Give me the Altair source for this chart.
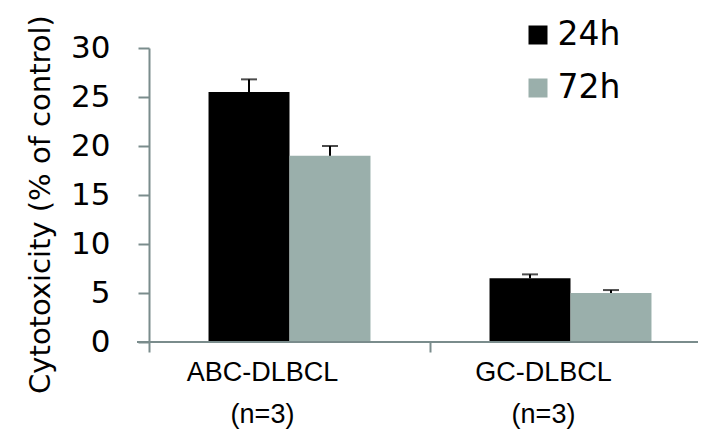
import altair as alt
import pandas as pd

groups = ["ABC-DLBCL (n=3)", "GC-DLBCL (n=3)"]
times = ["24h", "72h"]
mean_24h = [25.5, 6.5]
err_24h = [1.3, 0.4]
mean_72h = [19.0, 5.0]
err_72h = [1.0, 0.3]
colors = ["#000000", "#9aafab"]
y_ticks = [0, 5, 10, 15, 20, 25, 30]

rows = []
for g, m, e in zip(groups, mean_24h, err_24h):
    rows.append({"group": g, "time": "24h", "value": m, "upper": m + e})
for g, m, e in zip(groups, mean_72h, err_72h):
    rows.append({"group": g, "time": "72h", "value": m, "upper": m + e})
df = pd.DataFrame(rows)

AX = "#7a8c8c"

x_enc = alt.X(
    "group:N",
    sort=groups,
    scale=alt.Scale(range=[0, 562], paddingInner=0, paddingOuter=0),
    axis=alt.Axis(
        title=None, domain=False, bandPosition=0, tickSize=10, tickWidth=2,
        tickColor=AX, labelPadding=7, labelOffset=-27,
        labelFont="Liberation Sans", labelFontSize=27, labelColor="#000",
        labelExpr="split(datum.label, ' ')", labelLineHeight=42, labelAngle=0,
    ),
)
xo_enc = alt.XOffset("time:N", sort=times,
                     scale=alt.Scale(paddingInner=0, paddingOuter=0.735))
y_enc = alt.Y(
    "value:Q",
    scale=alt.Scale(domain=[0, 30], nice=False),
    axis=alt.Axis(
        values=y_ticks, title="Cytotoxicity (% of control)", grid=False,
        domainColor=AX, domainWidth=2, tickColor=AX, tickWidth=2, tickSize=11,
        labelPadding=28, labelFont="DejaVu Sans", labelFontSize=31,
        labelColor="#000", titleFont="DejaVu Sans", titleFontSize=29,
        titleColor="#000", titleFontWeight="normal", titleX=-100, titleY=156,
        titleBaseline="alphabetic",
    ),
)

base = alt.Chart(df)

bars = base.mark_bar().encode(
    x=x_enc,
    xOffset=xo_enc,
    y=y_enc,
    color=alt.Color(
        "time:N", sort=times,
        scale=alt.Scale(domain=times, range=colors),
        legend=alt.Legend(
            title=None, orient="none", legendX=372.5, legendY=-29.5,
            symbolType="square", symbolSize=361, symbolStrokeWidth=0,
            symbolOpacity=1, labelFont="DejaVu Sans", labelFontSize=33,
            labelColor="#000", labelOffset=3, rowPadding=19, padding=0,
        ),
    ),
)

err_line = base.mark_rule(color="#000", strokeWidth=2).encode(
    x=x_enc, xOffset=xo_enc, y=alt.Y("value:Q"), y2="upper:Q"
)
err_cap = base.mark_tick(color="#000", thickness=2, size=16, orient="horizontal").encode(
    x=x_enc, xOffset=xo_enc, y=alt.Y("upper:Q")
)

x_axis_line = base.mark_rule(color=AX, strokeWidth=2).encode(
    x=alt.value(-12), x2=alt.value(560), y=alt.datum(0)
)

chart = (
    alt.layer(bars, err_line, err_cap, x_axis_line)
    .properties(
        width=549, height=294,
        autosize=alt.AutoSizeParams(type="none"),
        padding={"left": 141, "top": 40, "right": 0, "bottom": 92},
        background="white",
    )
    .configure_view(stroke=None)
)

chart.save("out.html", embed_options={"renderer": "svg", "actions": False})
